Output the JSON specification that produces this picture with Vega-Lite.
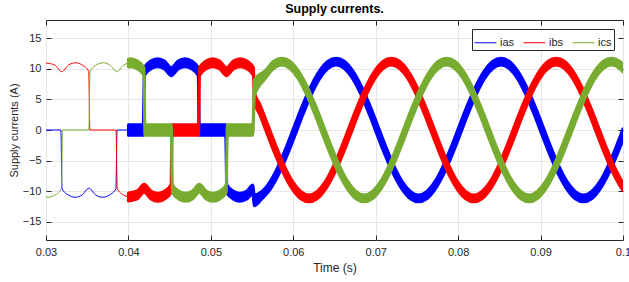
{
"$schema":"https://vega.github.io/schema/vega-lite/v6.json",
"width":577,"height":220,
"autosize":{"type":"none"},
"padding":{"left":46,"top":20,"right":6,"bottom":42},
"title":{"text":"Supply currents.","fontSize":12.5,"fontWeight":"bold","color":"#000000","offset":4,"anchor":"middle"},
"config":{"font":"Liberation Sans","view":{"stroke":"#262626","strokeWidth":1},
 "legend":{"orient":"top-right","direction":"horizontal","title":null,"offset":9,"fillColor":"white","strokeColor":"#262626","padding":2,"symbolType":"stroke","symbolSize":484,"symbolStrokeWidth":1,"labelFontSize":11,"labelColor":"#262626","columnPadding":6,"labelOffset":3}},
"data":{"values":[
{"t":0.03,"p":"ias","s":"thin","lo":0,"hi":0},
{"t":0.0318,"p":"ias","s":"thin","lo":0,"hi":0},
{"t":0.03195,"p":"ias","s":"thin","lo":-9.6,"hi":-9.6},
{"t":0.0327,"p":"ias","s":"thin","lo":-10.63,"hi":-10.63},
{"t":0.03353,"p":"ias","s":"thin","lo":-11,"hi":-11},
{"t":0.03437,"p":"ias","s":"thin","lo":-10.63,"hi":-10.63},
{"t":0.0352,"p":"ias","s":"thin","lo":-9.53,"hi":-9.53},
{"t":0.03603,"p":"ias","s":"thin","lo":-10.63,"hi":-10.63},
{"t":0.03687,"p":"ias","s":"thin","lo":-11,"hi":-11},
{"t":0.0377,"p":"ias","s":"thin","lo":-10.63,"hi":-10.63},
{"t":0.03848,"p":"ias","s":"thin","lo":-9.6,"hi":-9.6},
{"t":0.03862,"p":"ias","s":"thin","lo":0,"hi":0},
{"t":0.04,"p":"ias","s":"thin","lo":0,"hi":0},
{"t":0.03,"p":"ibs","s":"thin","lo":10.95,"hi":10.95},
{"t":0.03107,"p":"ibs","s":"thin","lo":10.63,"hi":10.63},
{"t":0.0319,"p":"ibs","s":"thin","lo":9.53,"hi":9.53},
{"t":0.03273,"p":"ibs","s":"thin","lo":10.63,"hi":10.63},
{"t":0.03357,"p":"ibs","s":"thin","lo":11,"hi":11},
{"t":0.0344,"p":"ibs","s":"thin","lo":10.63,"hi":10.63},
{"t":0.03518,"p":"ibs","s":"thin","lo":9.6,"hi":9.6},
{"t":0.03532,"p":"ibs","s":"thin","lo":0,"hi":0},
{"t":0.0385,"p":"ibs","s":"thin","lo":0,"hi":0},
{"t":0.03864,"p":"ibs","s":"thin","lo":-9.6,"hi":-9.6},
{"t":0.0394,"p":"ibs","s":"thin","lo":-10.63,"hi":-10.63},
{"t":0.04,"p":"ibs","s":"thin","lo":-10.95,"hi":-10.95},
{"t":0.03,"p":"ics","s":"thin","lo":-10.96,"hi":-10.96},
{"t":0.03027,"p":"ics","s":"thin","lo":-11,"hi":-11},
{"t":0.0311,"p":"ics","s":"thin","lo":-10.63,"hi":-10.63},
{"t":0.03188,"p":"ics","s":"thin","lo":-9.6,"hi":-9.6},
{"t":0.032,"p":"ics","s":"thin","lo":0,"hi":0},
{"t":0.0352,"p":"ics","s":"thin","lo":0,"hi":0},
{"t":0.03534,"p":"ics","s":"thin","lo":9.6,"hi":9.6},
{"t":0.0361,"p":"ics","s":"thin","lo":10.63,"hi":10.63},
{"t":0.03693,"p":"ics","s":"thin","lo":11,"hi":11},
{"t":0.03777,"p":"ics","s":"thin","lo":10.63,"hi":10.63},
{"t":0.0386,"p":"ics","s":"thin","lo":9.53,"hi":9.53},
{"t":0.03943,"p":"ics","s":"thin","lo":10.63,"hi":10.63},
{"t":0.04,"p":"ics","s":"thin","lo":10.95,"hi":10.95},

{"t":0.04,"p":"ias","s":"thick","lo":-0.85,"hi":0.85},
{"t":0.0418,"p":"ias","s":"thick","lo":-0.85,"hi":0.85},
{"t":0.04194,"p":"ias","s":"thick","lo":8.95,"hi":10.25},
{"t":0.0427,"p":"ias","s":"thick","lo":9.98,"hi":11.28},
{"t":0.04353,"p":"ias","s":"thick","lo":10.35,"hi":11.65},
{"t":0.04437,"p":"ias","s":"thick","lo":9.98,"hi":11.28},
{"t":0.0452,"p":"ias","s":"thick","lo":8.88,"hi":10.18},
{"t":0.04603,"p":"ias","s":"thick","lo":9.98,"hi":11.28},
{"t":0.04687,"p":"ias","s":"thick","lo":10.35,"hi":11.65},
{"t":0.0477,"p":"ias","s":"thick","lo":9.98,"hi":11.28},
{"t":0.04846,"p":"ias","s":"thick","lo":8.95,"hi":10.25},
{"t":0.0486,"p":"ias","s":"thick","lo":-0.85,"hi":0.85},
{"t":0.0518,"p":"ias","s":"thick","lo":-0.85,"hi":0.85},
{"t":0.05194,"p":"ias","s":"thick","lo":-10.25,"hi":-8.95},
{"t":0.0527,"p":"ias","s":"thick","lo":-11.28,"hi":-9.98},
{"t":0.05353,"p":"ias","s":"thick","lo":-11.65,"hi":-10.35},
{"t":0.05437,"p":"ias","s":"thick","lo":-11.28,"hi":-9.98},
{"t":0.0551,"p":"ias","s":"thick","lo":-10.4,"hi":-9.0},
{"t":0.05525,"p":"ias","s":"thick","lo":-12.4,"hi":-10.6},
{"t":0.0562,"p":"ias","s":"thick","lo":-11.25,"hi":-10.05},
{"t":0.0572,"p":"ias","s":"thick","lo":-9.71,"hi":-8.41},
{"t":0.0582,"p":"ias","s":"thick","lo":-7.33,"hi":-5.83},
{"t":0.0592,"p":"ias","s":"thick","lo":-4.31,"hi":-2.61},
{"t":0.0602,"p":"ias","s":"thick","lo":-0.9,"hi":0.9},
{"t":0.0612,"p":"ias","s":"thick","lo":2.61,"hi":4.31},
{"t":0.0622,"p":"ias","s":"thick","lo":5.83,"hi":7.33},
{"t":0.0632,"p":"ias","s":"thick","lo":8.41,"hi":9.71},
{"t":0.0642,"p":"ias","s":"thick","lo":10.05,"hi":11.25},
{"t":0.0652,"p":"ias","s":"thick","lo":10.65,"hi":11.75},
{"t":0.0662,"p":"ias","s":"thick","lo":10.05,"hi":11.25},
{"t":0.0672,"p":"ias","s":"thick","lo":8.41,"hi":9.71},
{"t":0.0682,"p":"ias","s":"thick","lo":5.83,"hi":7.33},
{"t":0.0692,"p":"ias","s":"thick","lo":2.61,"hi":4.31},
{"t":0.0702,"p":"ias","s":"thick","lo":-0.9,"hi":0.9},
{"t":0.0712,"p":"ias","s":"thick","lo":-4.31,"hi":-2.61},
{"t":0.0722,"p":"ias","s":"thick","lo":-7.33,"hi":-5.83},
{"t":0.0732,"p":"ias","s":"thick","lo":-9.71,"hi":-8.41},
{"t":0.0742,"p":"ias","s":"thick","lo":-11.25,"hi":-10.05},
{"t":0.0752,"p":"ias","s":"thick","lo":-11.75,"hi":-10.65},
{"t":0.0762,"p":"ias","s":"thick","lo":-11.25,"hi":-10.05},
{"t":0.0772,"p":"ias","s":"thick","lo":-9.71,"hi":-8.41},
{"t":0.0782,"p":"ias","s":"thick","lo":-7.33,"hi":-5.83},
{"t":0.0792,"p":"ias","s":"thick","lo":-4.31,"hi":-2.61},
{"t":0.0802,"p":"ias","s":"thick","lo":-0.9,"hi":0.9},
{"t":0.0812,"p":"ias","s":"thick","lo":2.61,"hi":4.31},
{"t":0.0822,"p":"ias","s":"thick","lo":5.83,"hi":7.33},
{"t":0.0832,"p":"ias","s":"thick","lo":8.41,"hi":9.71},
{"t":0.0842,"p":"ias","s":"thick","lo":10.05,"hi":11.25},
{"t":0.0852,"p":"ias","s":"thick","lo":10.65,"hi":11.75},
{"t":0.0862,"p":"ias","s":"thick","lo":10.05,"hi":11.25},
{"t":0.0872,"p":"ias","s":"thick","lo":8.41,"hi":9.71},
{"t":0.0882,"p":"ias","s":"thick","lo":5.83,"hi":7.33},
{"t":0.0892,"p":"ias","s":"thick","lo":2.61,"hi":4.31},
{"t":0.0902,"p":"ias","s":"thick","lo":-0.9,"hi":0.9},
{"t":0.0912,"p":"ias","s":"thick","lo":-4.31,"hi":-2.61},
{"t":0.0922,"p":"ias","s":"thick","lo":-7.33,"hi":-5.83},
{"t":0.0932,"p":"ias","s":"thick","lo":-9.71,"hi":-8.41},
{"t":0.0942,"p":"ias","s":"thick","lo":-11.25,"hi":-10.05},
{"t":0.0952,"p":"ias","s":"thick","lo":-11.75,"hi":-10.65},
{"t":0.0962,"p":"ias","s":"thick","lo":-11.25,"hi":-10.05},
{"t":0.0972,"p":"ias","s":"thick","lo":-9.71,"hi":-8.41},
{"t":0.0982,"p":"ias","s":"thick","lo":-7.33,"hi":-5.83},
{"t":0.0992,"p":"ias","s":"thick","lo":-4.31,"hi":-2.61},
{"t":0.1,"p":"ias","s":"thick","lo":-1.6,"hi":0.2},

{"t":0.04,"p":"ibs","s":"thick","lo":-11.6,"hi":-10.3},
{"t":0.04107,"p":"ibs","s":"thick","lo":-11.28,"hi":-9.98},
{"t":0.0419,"p":"ibs","s":"thick","lo":-10.18,"hi":-8.88},
{"t":0.04273,"p":"ibs","s":"thick","lo":-11.28,"hi":-9.98},
{"t":0.04357,"p":"ibs","s":"thick","lo":-11.65,"hi":-10.35},
{"t":0.0444,"p":"ibs","s":"thick","lo":-11.28,"hi":-9.98},
{"t":0.04516,"p":"ibs","s":"thick","lo":-10.25,"hi":-8.95},
{"t":0.0453,"p":"ibs","s":"thick","lo":-0.85,"hi":0.85},
{"t":0.0485,"p":"ibs","s":"thick","lo":-0.85,"hi":0.85},
{"t":0.04864,"p":"ibs","s":"thick","lo":8.95,"hi":10.25},
{"t":0.0494,"p":"ibs","s":"thick","lo":9.98,"hi":11.28},
{"t":0.05023,"p":"ibs","s":"thick","lo":10.35,"hi":11.65},
{"t":0.05107,"p":"ibs","s":"thick","lo":9.98,"hi":11.28},
{"t":0.0519,"p":"ibs","s":"thick","lo":8.88,"hi":10.18},
{"t":0.05273,"p":"ibs","s":"thick","lo":9.98,"hi":11.28},
{"t":0.05357,"p":"ibs","s":"thick","lo":10.35,"hi":11.65},
{"t":0.0544,"p":"ibs","s":"thick","lo":9.98,"hi":11.28},
{"t":0.05516,"p":"ibs","s":"thick","lo":8.95,"hi":10.25},
{"t":0.05528,"p":"ibs","s":"thick","lo":4.6,"hi":6.2},
{"t":0.0559,"p":"ibs","s":"thick","lo":2.61,"hi":4.31},
{"t":0.0569,"p":"ibs","s":"thick","lo":-0.9,"hi":0.9},
{"t":0.0579,"p":"ibs","s":"thick","lo":-4.31,"hi":-2.61},
{"t":0.0589,"p":"ibs","s":"thick","lo":-7.33,"hi":-5.83},
{"t":0.0599,"p":"ibs","s":"thick","lo":-9.71,"hi":-8.41},
{"t":0.0609,"p":"ibs","s":"thick","lo":-11.25,"hi":-10.05},
{"t":0.0619,"p":"ibs","s":"thick","lo":-11.75,"hi":-10.65},
{"t":0.0629,"p":"ibs","s":"thick","lo":-11.25,"hi":-10.05},
{"t":0.0639,"p":"ibs","s":"thick","lo":-9.71,"hi":-8.41},
{"t":0.0649,"p":"ibs","s":"thick","lo":-7.33,"hi":-5.83},
{"t":0.0659,"p":"ibs","s":"thick","lo":-4.31,"hi":-2.61},
{"t":0.0669,"p":"ibs","s":"thick","lo":-0.9,"hi":0.9},
{"t":0.0679,"p":"ibs","s":"thick","lo":2.61,"hi":4.31},
{"t":0.0689,"p":"ibs","s":"thick","lo":5.83,"hi":7.33},
{"t":0.0699,"p":"ibs","s":"thick","lo":8.41,"hi":9.71},
{"t":0.0709,"p":"ibs","s":"thick","lo":10.05,"hi":11.25},
{"t":0.0719,"p":"ibs","s":"thick","lo":10.65,"hi":11.75},
{"t":0.0729,"p":"ibs","s":"thick","lo":10.05,"hi":11.25},
{"t":0.0739,"p":"ibs","s":"thick","lo":8.41,"hi":9.71},
{"t":0.0749,"p":"ibs","s":"thick","lo":5.83,"hi":7.33},
{"t":0.0759,"p":"ibs","s":"thick","lo":2.61,"hi":4.31},
{"t":0.0769,"p":"ibs","s":"thick","lo":-0.9,"hi":0.9},
{"t":0.0779,"p":"ibs","s":"thick","lo":-4.31,"hi":-2.61},
{"t":0.0789,"p":"ibs","s":"thick","lo":-7.33,"hi":-5.83},
{"t":0.0799,"p":"ibs","s":"thick","lo":-9.71,"hi":-8.41},
{"t":0.0809,"p":"ibs","s":"thick","lo":-11.25,"hi":-10.05},
{"t":0.0819,"p":"ibs","s":"thick","lo":-11.75,"hi":-10.65},
{"t":0.0829,"p":"ibs","s":"thick","lo":-11.25,"hi":-10.05},
{"t":0.0839,"p":"ibs","s":"thick","lo":-9.71,"hi":-8.41},
{"t":0.0849,"p":"ibs","s":"thick","lo":-7.33,"hi":-5.83},
{"t":0.0859,"p":"ibs","s":"thick","lo":-4.31,"hi":-2.61},
{"t":0.0869,"p":"ibs","s":"thick","lo":-0.9,"hi":0.9},
{"t":0.0879,"p":"ibs","s":"thick","lo":2.61,"hi":4.31},
{"t":0.0889,"p":"ibs","s":"thick","lo":5.83,"hi":7.33},
{"t":0.0899,"p":"ibs","s":"thick","lo":8.41,"hi":9.71},
{"t":0.0909,"p":"ibs","s":"thick","lo":10.05,"hi":11.25},
{"t":0.0919,"p":"ibs","s":"thick","lo":10.65,"hi":11.75},
{"t":0.0929,"p":"ibs","s":"thick","lo":10.05,"hi":11.25},
{"t":0.0939,"p":"ibs","s":"thick","lo":8.41,"hi":9.71},
{"t":0.0949,"p":"ibs","s":"thick","lo":5.83,"hi":7.33},
{"t":0.0959,"p":"ibs","s":"thick","lo":2.61,"hi":4.31},
{"t":0.0969,"p":"ibs","s":"thick","lo":-0.9,"hi":0.9},
{"t":0.0979,"p":"ibs","s":"thick","lo":-4.31,"hi":-2.61},
{"t":0.0989,"p":"ibs","s":"thick","lo":-7.33,"hi":-5.83},
{"t":0.0999,"p":"ibs","s":"thick","lo":-9.71,"hi":-8.41},
{"t":0.1,"p":"ibs","s":"thick","lo":-9.9,"hi":-8.6},

{"t":0.04,"p":"ics","s":"thick","lo":10.3,"hi":11.6},
{"t":0.04027,"p":"ics","s":"thick","lo":10.35,"hi":11.65},
{"t":0.0411,"p":"ics","s":"thick","lo":9.98,"hi":11.28},
{"t":0.04188,"p":"ics","s":"thick","lo":8.95,"hi":10.25},
{"t":0.042,"p":"ics","s":"thick","lo":-0.85,"hi":0.85},
{"t":0.0452,"p":"ics","s":"thick","lo":-0.85,"hi":0.85},
{"t":0.04534,"p":"ics","s":"thick","lo":-10.25,"hi":-8.95},
{"t":0.0461,"p":"ics","s":"thick","lo":-11.28,"hi":-9.98},
{"t":0.04693,"p":"ics","s":"thick","lo":-11.65,"hi":-10.35},
{"t":0.04777,"p":"ics","s":"thick","lo":-11.28,"hi":-9.98},
{"t":0.0486,"p":"ics","s":"thick","lo":-10.18,"hi":-8.88},
{"t":0.04943,"p":"ics","s":"thick","lo":-11.28,"hi":-9.98},
{"t":0.05027,"p":"ics","s":"thick","lo":-11.65,"hi":-10.35},
{"t":0.0511,"p":"ics","s":"thick","lo":-11.28,"hi":-9.98},
{"t":0.05186,"p":"ics","s":"thick","lo":-10.25,"hi":-8.95},
{"t":0.052,"p":"ics","s":"thick","lo":-0.85,"hi":0.85},
{"t":0.0551,"p":"ics","s":"thick","lo":-0.85,"hi":0.85},
{"t":0.05528,"p":"ics","s":"thick","lo":5.6,"hi":8.2},
{"t":0.0566,"p":"ics","s":"thick","lo":8.41,"hi":9.71},
{"t":0.0576,"p":"ics","s":"thick","lo":10.05,"hi":11.25},
{"t":0.0586,"p":"ics","s":"thick","lo":10.65,"hi":11.75},
{"t":0.0596,"p":"ics","s":"thick","lo":10.05,"hi":11.25},
{"t":0.0606,"p":"ics","s":"thick","lo":8.41,"hi":9.71},
{"t":0.0616,"p":"ics","s":"thick","lo":5.83,"hi":7.33},
{"t":0.0626,"p":"ics","s":"thick","lo":2.61,"hi":4.31},
{"t":0.0636,"p":"ics","s":"thick","lo":-0.9,"hi":0.9},
{"t":0.0646,"p":"ics","s":"thick","lo":-4.31,"hi":-2.61},
{"t":0.0656,"p":"ics","s":"thick","lo":-7.33,"hi":-5.83},
{"t":0.0666,"p":"ics","s":"thick","lo":-9.71,"hi":-8.41},
{"t":0.0676,"p":"ics","s":"thick","lo":-11.25,"hi":-10.05},
{"t":0.0686,"p":"ics","s":"thick","lo":-11.75,"hi":-10.65},
{"t":0.0696,"p":"ics","s":"thick","lo":-11.25,"hi":-10.05},
{"t":0.0706,"p":"ics","s":"thick","lo":-9.71,"hi":-8.41},
{"t":0.0716,"p":"ics","s":"thick","lo":-7.33,"hi":-5.83},
{"t":0.0726,"p":"ics","s":"thick","lo":-4.31,"hi":-2.61},
{"t":0.0736,"p":"ics","s":"thick","lo":-0.9,"hi":0.9},
{"t":0.0746,"p":"ics","s":"thick","lo":2.61,"hi":4.31},
{"t":0.0756,"p":"ics","s":"thick","lo":5.83,"hi":7.33},
{"t":0.0766,"p":"ics","s":"thick","lo":8.41,"hi":9.71},
{"t":0.0776,"p":"ics","s":"thick","lo":10.05,"hi":11.25},
{"t":0.0786,"p":"ics","s":"thick","lo":10.65,"hi":11.75},
{"t":0.0796,"p":"ics","s":"thick","lo":10.05,"hi":11.25},
{"t":0.0806,"p":"ics","s":"thick","lo":8.41,"hi":9.71},
{"t":0.0816,"p":"ics","s":"thick","lo":5.83,"hi":7.33},
{"t":0.0826,"p":"ics","s":"thick","lo":2.61,"hi":4.31},
{"t":0.0836,"p":"ics","s":"thick","lo":-0.9,"hi":0.9},
{"t":0.0846,"p":"ics","s":"thick","lo":-4.31,"hi":-2.61},
{"t":0.0856,"p":"ics","s":"thick","lo":-7.33,"hi":-5.83},
{"t":0.0866,"p":"ics","s":"thick","lo":-9.71,"hi":-8.41},
{"t":0.0876,"p":"ics","s":"thick","lo":-11.25,"hi":-10.05},
{"t":0.0886,"p":"ics","s":"thick","lo":-11.75,"hi":-10.65},
{"t":0.0896,"p":"ics","s":"thick","lo":-11.25,"hi":-10.05},
{"t":0.0906,"p":"ics","s":"thick","lo":-9.71,"hi":-8.41},
{"t":0.0916,"p":"ics","s":"thick","lo":-7.33,"hi":-5.83},
{"t":0.0926,"p":"ics","s":"thick","lo":-4.31,"hi":-2.61},
{"t":0.0936,"p":"ics","s":"thick","lo":-0.9,"hi":0.9},
{"t":0.0946,"p":"ics","s":"thick","lo":2.61,"hi":4.31},
{"t":0.0956,"p":"ics","s":"thick","lo":5.83,"hi":7.33},
{"t":0.0966,"p":"ics","s":"thick","lo":8.41,"hi":9.71},
{"t":0.0976,"p":"ics","s":"thick","lo":10.05,"hi":11.25},
{"t":0.0986,"p":"ics","s":"thick","lo":10.65,"hi":11.75},
{"t":0.0996,"p":"ics","s":"thick","lo":10.05,"hi":11.25},
{"t":0.1,"p":"ics","s":"thick","lo":9.5,"hi":10.8}
]},
"layer":[
{"transform":[{"filter":"datum.s == 'thick'"}],
 "mark":{"type":"area","interpolate":"monotone","strokeWidth":3,"strokeJoin":"round","clip":true,"opacity":1},
 "encoding":{
  "x":{"field":"t","type":"quantitative","scale":{"domain":[0.03,0.1],"nice":false,"zero":false},
       "axis":{"orient":"bottom","values":[0.03,0.04,0.05,0.06,0.07,0.08,0.09,0.1],"labelExpr":"format(datum.value,'.2~f')","title":"Time (s)","grid":true,"gridColor":"#e6e6e6","domain":false,"tickSize":-5,"tickColor":"#262626","labelColor":"#262626","labelFontSize":11,"labelFlush":false,"labelPadding":11,"titleFontSize":12,"titleFontWeight":"normal","titleColor":"#262626","titlePadding":5}},
  "y":{"field":"lo","type":"quantitative","scale":{"domain":[-18,18],"nice":false,"zero":false},
       "axis":{"orient":"left","values":[-15,-10,-5,0,5,10,15],"title":"Supply currents (A)","grid":true,"gridColor":"#e6e6e6","domain":false,"tickSize":-5,"tickColor":"#262626","labelColor":"#262626","labelFontSize":11,"labelFlush":false,"labelPadding":10,"titleFontSize":11,"titleFontWeight":"normal","titleColor":"#262626","titlePadding":3}},
  "y2":{"field":"hi"},
  "fill":{"field":"p","type":"nominal","scale":{"domain":["ias","ibs","ics"],"range":["#0000ff","#ff0000","#77ac30"]}},
  "stroke":{"field":"p","type":"nominal","scale":{"domain":["ias","ibs","ics"],"range":["#0000ff","#ff0000","#77ac30"]}}
 }},
{"transform":[{"filter":"datum.s == 'thin'"}],
 "mark":{"type":"line","interpolate":"monotone","strokeWidth":1,"clip":true},
 "encoding":{
  "x":{"field":"t","type":"quantitative","axis":{"orient":"top","values":[0.03,0.04,0.05,0.06,0.07,0.08,0.09,0.1],"labels":false,"title":null,"grid":false,"domain":false,"tickSize":-5,"tickColor":"#262626"}},
  "y":{"field":"lo","type":"quantitative","axis":{"orient":"right","values":[-15,-10,-5,0,5,10,15],"labels":false,"title":null,"grid":false,"domain":false,"tickSize":-5,"tickColor":"#262626"}},
  "stroke":{"field":"p","type":"nominal"}
 }}
],
"resolve":{"axis":{"x":"independent","y":"independent"}}
}
